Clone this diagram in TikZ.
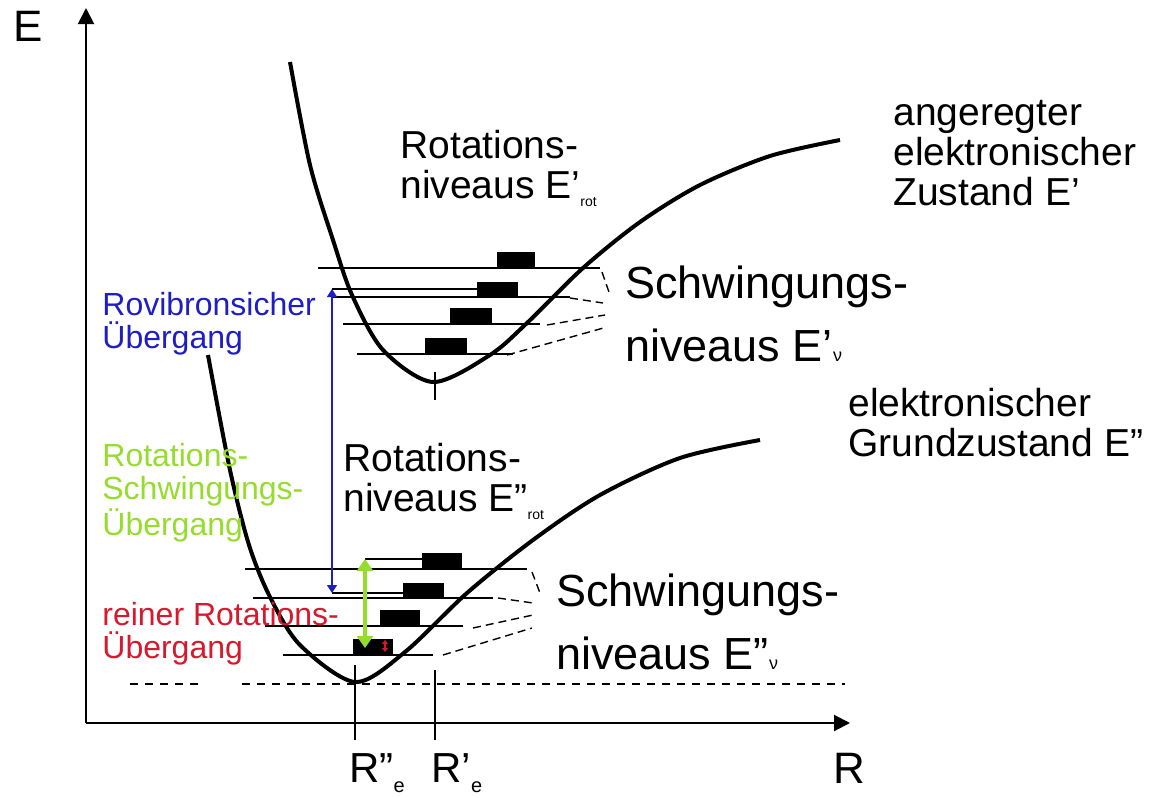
\documentclass[tikz,border=0pt]{standalone}
\usepackage{fontspec}
\setmainfont{Liberation Sans}
\usepackage{xcolor}
\usepackage{tikz}
\usetikzlibrary{arrows.meta}

\definecolor{rovblue}{RGB}{30,30,195}
\definecolor{rsgreen}{RGB}{150,220,45}
\definecolor{rotred}{RGB}{215,25,45}
\newcommand{\lowsub}[3]{\raisebox{#2}{\fontsize{#1}{#1}\selectfont #3}}

\begin{document}
\begin{tikzpicture}[x=0.5pt,y=-0.5pt,
  pot/.style={line width=2pt},
  lvl/.style={line width=0.9pt},
  guide/.style={line width=0.7pt,dash pattern=on 4pt off 2.5pt},
  midtxt/.style={font=\fontsize{19.5}{20}\selectfont,align=left,anchor=north west,inner sep=0pt},
  smalltxt/.style={font=\fontsize{16}{16.5}\selectfont,align=left,anchor=north west,inner sep=0pt},
  bigtxt/.style={font=\fontsize{22.5}{31.5}\selectfont,align=left,anchor=north west,inner sep=0pt}]
  \useasboundingbox (0,0) rectangle (1153,798);
  % axes
  \coordinate (orig) at (86,723);
  \coordinate (etop) at (86,8);
  \coordinate (rend) at (850,723);
  \draw[line width=1pt,-{Triangle[length=8pt,width=8pt]}] (orig) -- (etop);
  \draw[line width=1pt,-{Triangle[length=8pt,width=8pt]}] (orig) -- (rend);
  \node[bigtxt,font=\fontsize{22}{22}\selectfont] (elabel) at (13,11) {E};
  \node[bigtxt,font=\fontsize{22}{22}\selectfont] (rlabel) at (833,753) {R};
  \draw[line width=0.8pt,dash pattern=on 4pt off 3.5pt] (130,684) -- (203,684);
  \draw[line width=0.8pt,dash pattern=on 4pt off 3.5pt] (242,684) -- (845,684);
  % potential curves
  \draw[pot] plot[smooth] coordinates {(290,62) (310,165) (333,240) (352,295)
                               (383,350) (433,382) (490,355) (527,323)
                               (583,268) (640,222) (700,185) (770,156) (840,140)};
  \draw[pot] plot[smooth] coordinates {(208,355) (230,470) (249,545) (270,597)
                               (300,645) (355,682) (405,652) (467,593)
                               (533,540) (600,495) (680,458) (760,440)};
  \draw[lvl] (435,372) -- (435,400);
  \draw[lvl] (355,665) -- (355,740);
  \draw[lvl] (435,670) -- (435,740);
  \node[bigtxt,font=\fontsize{21}{21}\selectfont] (resec) at (349,753)
    {R''\lowsub{10}{-5pt}{e}};
  \node[bigtxt,font=\fontsize{21}{21}\selectfont] (reprim) at (431,753)
    {R'\lowsub{10}{-5pt}{e}};
  % upper vibrational and rotational levels
  \draw[lvl] (318,268) -- (600,268);
  \fill (497,252) rectangle (535,268);
  \draw[lvl] (333,297) -- (570,297);
  \fill (477,282) rectangle (518,297);
  \draw[lvl] (343,324) -- (540,324);
  \fill (450,308) rectangle (492,324);
  \draw[lvl] (357,354) -- (513,354);
  \fill (425,338) rectangle (467,354);
  \draw[guide] (602,272) -- (610,295);
  \draw[guide] (570,298) -- (603,303);
  \draw[guide] (547,325) -- (605,315);
  \draw[guide] (507,355) -- (607,327);
  % lower vibrational and rotational levels
  \draw[lvl] (245,569) -- (527,569);
  \fill (422,553) rectangle (462,569);
  \draw[lvl] (253,598) -- (493,598);
  \fill (403,583) rectangle (444,598);
  \draw[lvl] (265,626) -- (463,626);
  \fill (380,610) rectangle (420,626);
  \draw[lvl] (283,655) -- (433,655);
  \fill (353,639) rectangle (393,655);
  \draw[guide] (532,572) -- (540,593);
  \draw[guide] (498,598) -- (533,603);
  \draw[guide] (473,628) -- (533,615);
  \draw[guide] (443,655) -- (532,628);
  % transitions
  \coordinate (rovtop) at (332,289);
  \coordinate (rovbot) at (332,593);
  \coordinate (boxup) at (477,289);
  \coordinate (boxlow) at (403,593);
  \coordinate (rstop) at (365,559);
  \coordinate (rsbot) at (365,648);
  \coordinate (rsbox) at (422,559);
  \coordinate (rrtop) at (385,640);
  \coordinate (rrbot) at (385,652);
  \draw[line width=0.6pt] (rovtop) -- (boxup);
  \draw[line width=0.6pt] (rovbot) -- (boxlow);
  \draw[line width=0.6pt] (rstop) -- (rsbox);
  \draw[rovblue,line width=0.8pt,{Triangle[length=4pt,width=5pt]}-{Triangle[length=4pt,width=5pt]}]
    (rovbot) -- (rovtop);
  \draw[rsgreen,line width=2pt,{Triangle[length=6pt,width=8pt]}-{Triangle[length=6pt,width=8pt]}]
    (rsbot) -- (rstop);
  \draw[rotred,line width=0.6pt,{Triangle[length=2pt,width=3pt]}-{Triangle[length=2pt,width=3pt]}]
    (rrbot) -- (rrtop);
  % labels
  \node[midtxt] (rotup) at (400,130) {Rotations-\\niveaus E'\lowsub{7}{-4pt}{rot}};
  \node[midtxt] (excited) at (893,100) {angeregter\\elektronischer\\Zustand E'};
  \node[bigtxt] (vibup) at (625,265) {Schwingungs-\\niveaus E'\lowsub{9}{0pt}{ν}};
  \node[smalltxt,text=rovblue] (rovib) at (102,292) {Rovibronsicher\\Übergang};
  \node[smalltxt,text=rsgreen] (rsuebg) at (102,443) {Rotations-\\Schwingungs-\\Übergang};
  \node[smalltxt,text=rotred] (rotuebg) at (102,602) {reiner Rotations-\\Übergang};
  \node[midtxt] (rotlow) at (343,443) {Rotations-\\niveaus E''\lowsub{7}{-4pt}{rot}};
  \node[midtxt] (ground) at (848,388) {elektronischer\\Grundzustand E''};
  \node[bigtxt] (viblow) at (556,573) {Schwingungs-\\niveaus E''\lowsub{9}{0pt}{ν}};
\end{tikzpicture}
\end{document}
